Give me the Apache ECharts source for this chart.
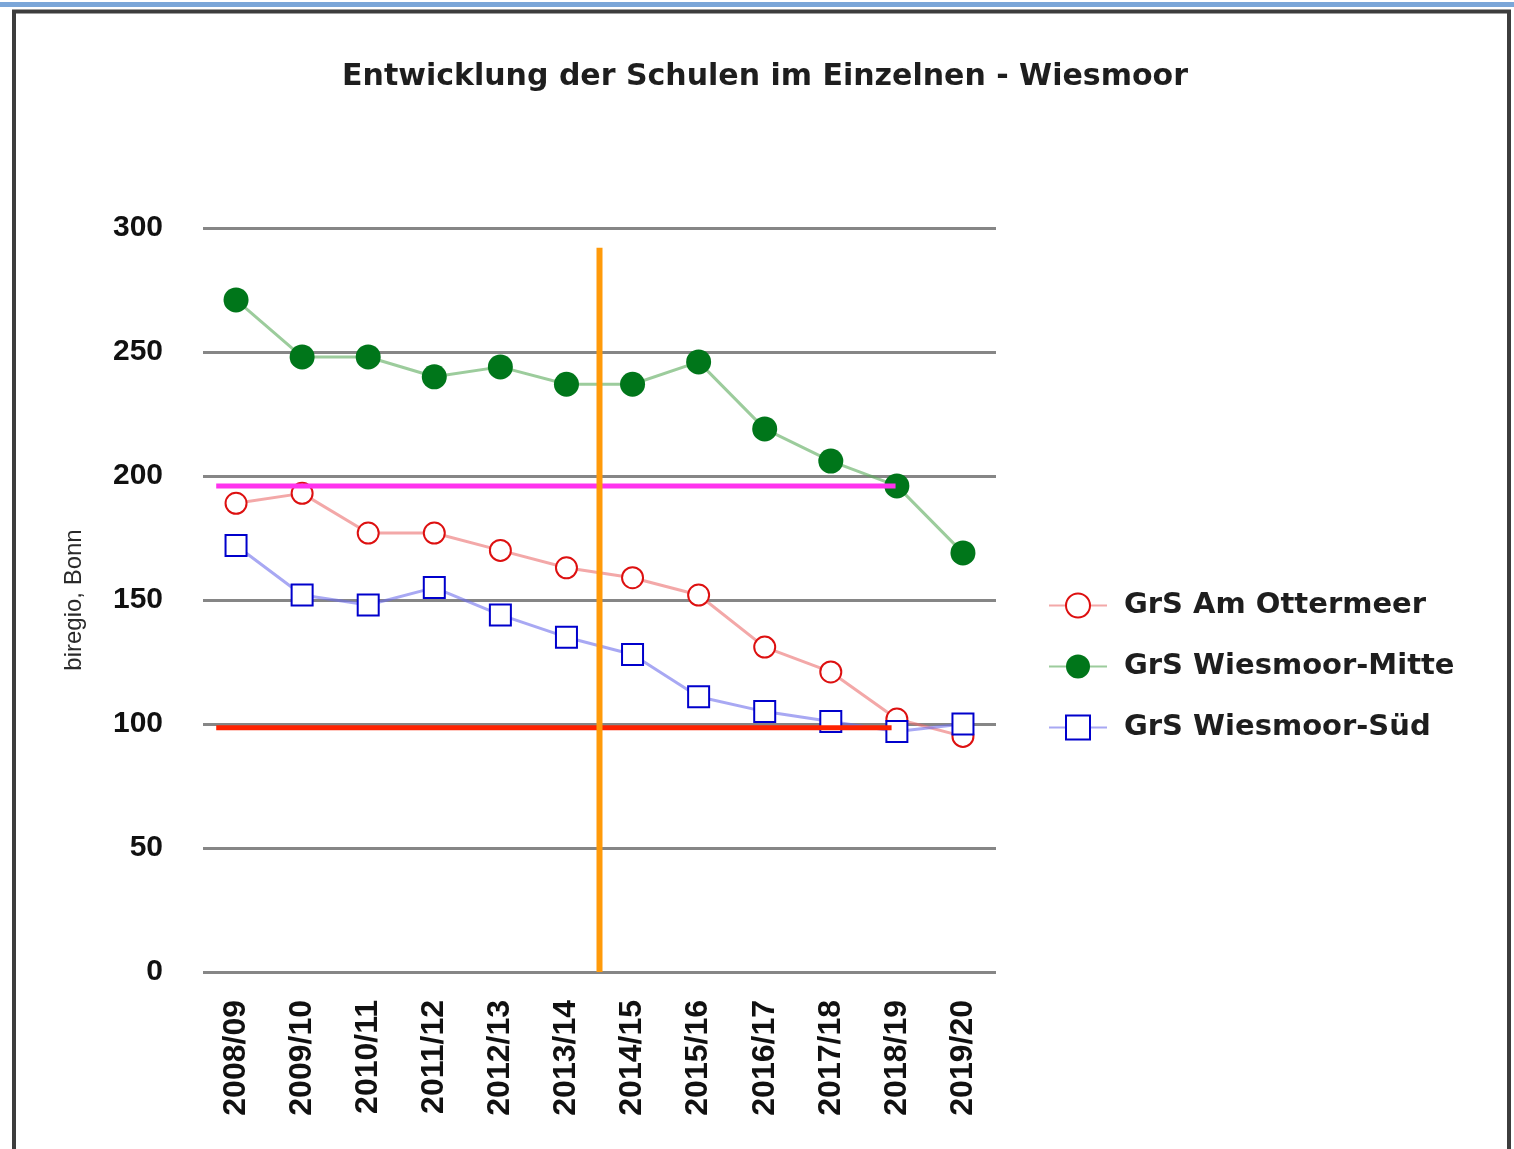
<!DOCTYPE html>
<html>
<head>
<meta charset="utf-8">
<title>Entwicklung der Schulen im Einzelnen - Wiesmoor</title>
<script src="https://cdn.jsdelivr.net/npm/echarts@6/dist/echarts.min.js"></script>
<style>
  html, body { margin: 0; padding: 0; background: #fff; }
  #chart { width: 1514px; height: 1149px; }
</style>
</head>
<body>
<div id="chart"></div>
<script>
// Schuljahre
var years = ['2008/09', '2009/10', '2010/11', '2011/12', '2012/13', '2013/14',
             '2014/15', '2015/16', '2016/17', '2017/18', '2018/19', '2019/20'];

// Schuelerzahlen je Schule
var ottermeer = [189, 193, 177, 177, 170, 163, 159, 152, 131, 121, 102, 95];
var mitte     = [271, 248, 248, 240, 244, 237, 237, 246, 219, 206, 196, 169];
var sued      = [172, 152, 148, 155, 144, 135, 128, 111, 105, 101, 97, 100];

// Hilfslinien: [x als Kategorie-Index, y-Wert]
var magentaLine = [[-0.3, 196], [9.98, 196]];
var redLine     = [[-0.3, 98.5], [9.92, 98.5]];
var orangeLine  = [[5.5, 0], [5.5, 292]];

var yTicks = { min: 0, max: 300, interval: 50 };

var chart = echarts.init(document.getElementById('chart'));

var option = {
  backgroundColor: '#fff',
  animation: false,
  graphic: [
    // blaue Linie oben und dunkler Rahmen
    { type: 'rect', shape: { x: 0, y: 2, width: 1514, height: 5 }, style: { fill: '#7ba6d8' }, z: -1 },
    { type: 'rect', shape: { x: 14, y: 11.5, width: 1495, height: 1200 },
      style: { fill: 'none', stroke: '#3d3d3d', lineWidth: 4 }, z: -1 }
  ],
  title: {
    text: 'Entwicklung der Schulen im Einzelnen - Wiesmoor',
    left: 760,
    textAlign: 'center',
    top: 57,
    textStyle: { fontFamily: 'DejaVu Sans', fontWeight: 'bold', fontSize: 30, color: '#1e1e1e' }
  },
  legend: {
    orient: 'vertical',
    left: 1043,
    top: 586,
    itemWidth: 58,
    itemHeight: 30,
    itemGap: 32,
    textStyle: { fontFamily: 'DejaVu Sans', fontWeight: 'bold', fontSize: 29, color: '#1e1e1e',
                 padding: [0, 0, 0, 12] },
    data: ['GrS Am Ottermeer', 'GrS Wiesmoor-Mitte', 'GrS Wiesmoor-Süd']
  },
  grid: { left: 203, right: 518, top: 228, bottom: 177 },
  xAxis: [
    {
      type: 'category',
      data: years,
      boundaryGap: true,
      axisLine: { show: false },
      axisTick: { show: false },
      axisLabel: {
        rotate: 90, margin: 28, interval: 0,
        fontFamily: 'Liberation Sans', fontWeight: 'bold', fontSize: 32, color: '#111'
      }
    },
    { type: 'value', min: -0.5, max: 11.5, show: false }
  ],
  yAxis: {
    type: 'value',
    min: yTicks.min, max: yTicks.max, interval: yTicks.interval,
    name: 'biregio, Bonn',
    nameLocation: 'middle',
    nameGap: 117,
    nameTextStyle: { fontFamily: 'Liberation Sans', fontSize: 24, color: '#2a2a2a' },
    axisLine: { show: false },
    axisTick: { show: false },
    axisLabel: { margin: 40, fontFamily: 'Liberation Sans', fontWeight: 'bold', fontSize: 30, color: '#111' },
    splitLine: { lineStyle: { color: '#868686', width: 3 } }
  },
  series: [
    {
      name: 'GrS Am Ottermeer',
      type: 'line',
      data: ottermeer,
      symbol: 'emptyCircle',
      symbolSize: 21,
      lineStyle: { color: 'rgba(235,110,110,0.6)', width: 3 },
      itemStyle: { color: '#dd1010', borderColor: '#dd1010', borderWidth: 3.5 },
      z: 3
    },
    {
      name: 'GrS Wiesmoor-Mitte',
      type: 'line',
      data: mitte,
      symbol: 'circle',
      symbolSize: 25,
      lineStyle: { color: 'rgba(90,170,90,0.6)', width: 3 },
      itemStyle: { color: '#00761a' },
      z: 3
    },
    {
      name: 'GrS Wiesmoor-Süd',
      type: 'line',
      data: sued,
      symbol: 'emptyRect',
      symbolSize: 21,
      lineStyle: { color: 'rgba(110,110,235,0.6)', width: 3 },
      itemStyle: { color: '#0000cc', borderColor: '#0000cc', borderWidth: 3.5 },
      z: 3
    },
    {
      type: 'line', xAxisIndex: 1, data: magentaLine, symbol: 'none', silent: true,
      lineStyle: { color: '#ff33ee', width: 5 }, z: 6
    },
    {
      type: 'line', xAxisIndex: 1, data: redLine, symbol: 'none', silent: true,
      lineStyle: { color: '#ff2200', width: 5 }, z: 6
    },
    {
      type: 'line', xAxisIndex: 1, data: orangeLine, symbol: 'none', silent: true,
      lineStyle: { color: '#ff9a0a', width: 6 }, z: 7
    }
  ]
};

chart.setOption(option);
</script>
</body>
</html>
